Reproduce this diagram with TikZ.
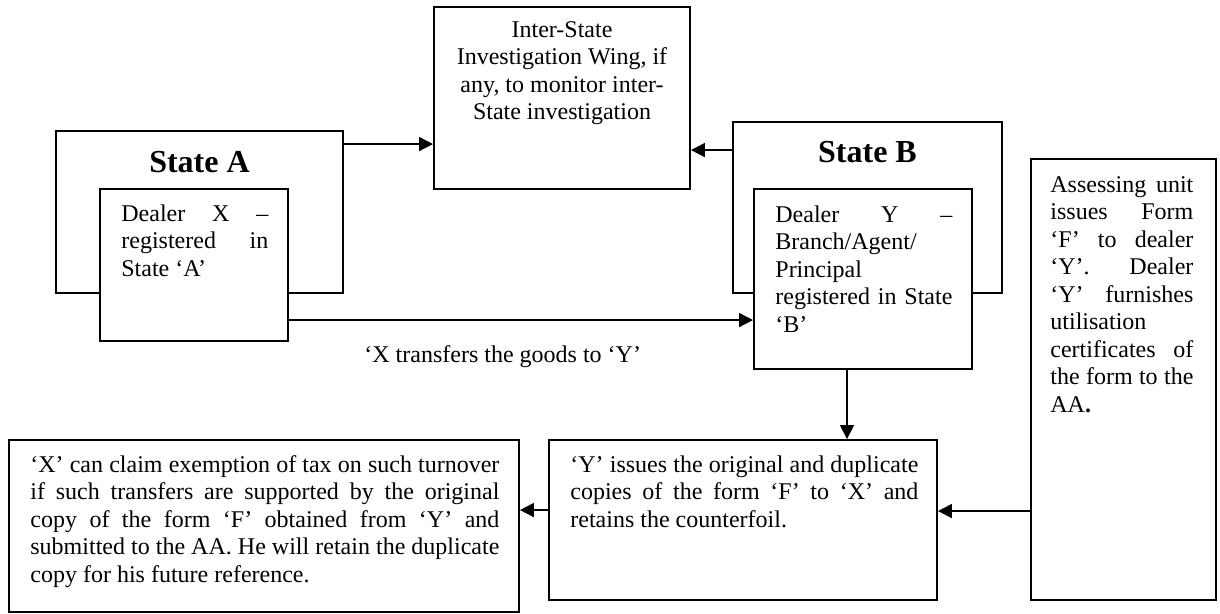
\documentclass[tikz,border=0pt]{standalone}
\usepackage{fontspec}
\setmainfont{Liberation Serif}
\usetikzlibrary{arrows.meta}
\newcommand{\jl}[2]{\makebox[#1][s]{#2}}
\begin{document}
\begin{tikzpicture}[x=0.5pt,y=-0.5pt,
  box/.style={draw, line width=0.95pt, fill=white, inner sep=0pt},
  txt/.style={anchor=north west, inner sep=0pt, align=left, font=\fontsize{12pt}{13.75pt}\selectfont},
  ctxt/.style={anchor=north, inner sep=0pt, align=center, font=\fontsize{12pt}{13.75pt}\selectfont},
  ttl/.style={anchor=base, inner sep=0pt, font=\fontsize{16pt}{19pt}\selectfont\bfseries},
  arr/.style={line width=0.85pt, -{Triangle[length=7pt,width=7pt]}}]
\useasboundingbox (0,0) rectangle (1220,614);

% boxes
\node[box, minimum width=143.5pt, minimum height=81pt] (StA) at (199.5,212) {};
\node[box, minimum width=94pt, minimum height=76pt] (DX) at (194,265) {};
\node[box, minimum width=128pt, minimum height=91pt] (IS) at (562,98) {};
\node[box, minimum width=134.5pt, minimum height=85.5pt] (StB) at (867.5,207.5) {};
\node[box, minimum width=109pt, minimum height=90pt] (DY) at (863,279) {};
\node[box, minimum width=92.5pt, minimum height=220.5pt] (AS) at (1123.5,379.5) {};
\node[box, minimum width=194pt, minimum height=80pt] (YI) at (743,520) {};
\node[box, minimum width=255pt, minimum height=86pt] (BL) at (264,526) {};

% titles
\node[ttl] (tA) at ([yshift=-21pt]StA.north) {State A};
\node[ttl] (tB) at ([yshift=-20.5pt]StB.north) {State B};

% texts
\node[txt] (tDX) at (121,201) {\rule{0pt}{10pt}\jl{73.5pt}{Dealer X –}\\\jl{73.5pt}{registered in}\\State ‘A’};
\node[ctxt] (tIS) at (562,17) {\rule{0pt}{10pt}Inter-State\\Investigation Wing, if\\any, to monitor inter-\\State investigation};
\node[txt] (tDY) at (775,202) {\rule{0pt}{10pt}\jl{88.5pt}{Dealer Y –}\\Branch/Agent/\\Principal\\\jl{88.5pt}{registered in State}\\‘B’};
\node[txt] (tAS) at (1050,172) {\rule{0pt}{10pt}\jl{71.5pt}{Assessing unit}\\\jl{71.5pt}{issues Form}\\\jl{71.5pt}{‘F’ to dealer}\\\jl{71.5pt}{‘Y’. Dealer}\\\jl{71.5pt}{‘Y’ furnishes}\\utilisation\\\jl{71.5pt}{certificates of}\\\jl{71.5pt}{the form to the}\\AA\textbf{.}};
\node[txt] (tYI) at (570,452) {\rule{0pt}{10pt}\jl{174pt}{‘Y’ issues the original and duplicate}\\\jl{174pt}{copies of the form ‘F’ to ‘X’ and}\\retains the counterfoil.};
\node[txt] (tBL) at (30,452) {\rule{0pt}{10pt}\jl{234.5pt}{‘X’ can claim exemption of tax on such turnover}\\\jl{234.5pt}{if such transfers are supported by the original}\\\jl{234.5pt}{copy of the form ‘F’ obtained from ‘Y’ and}\\\jl{234.5pt}{submitted to the AA. He will retain the duplicate}\\copy for his future reference.};
\node[anchor=base west, inner sep=0pt, font=\fontsize{12pt}{13.75pt}\selectfont] (lbl) at (364,363) {‘X transfers the goods to ‘Y’};

% connectors
\draw[arr] ([yshift=-7pt]StA.north east) -- ([yshift=-7pt]StA.north east -| IS.west);
\draw[arr] ([yshift=-14.5pt]StB.north west) -- ([yshift=-14.5pt]StB.north west -| IS.east);
\draw[arr] ([yshift=-66pt]DX.north east) -- ([yshift=-66pt]DX.north east -| DY.west);
\draw[arr] ([xshift=-8pt]DY.south) -- ([xshift=-8pt]DY.south |- YI.north);
\draw[arr] ([yshift=-176.5pt]AS.north west) -- ([yshift=-176.5pt]AS.north west -| YI.east);
\draw[arr] ([yshift=-35.5pt]YI.north west) -- ([yshift=-35.5pt]YI.north west -| BL.east);
\end{tikzpicture}
\end{document}
